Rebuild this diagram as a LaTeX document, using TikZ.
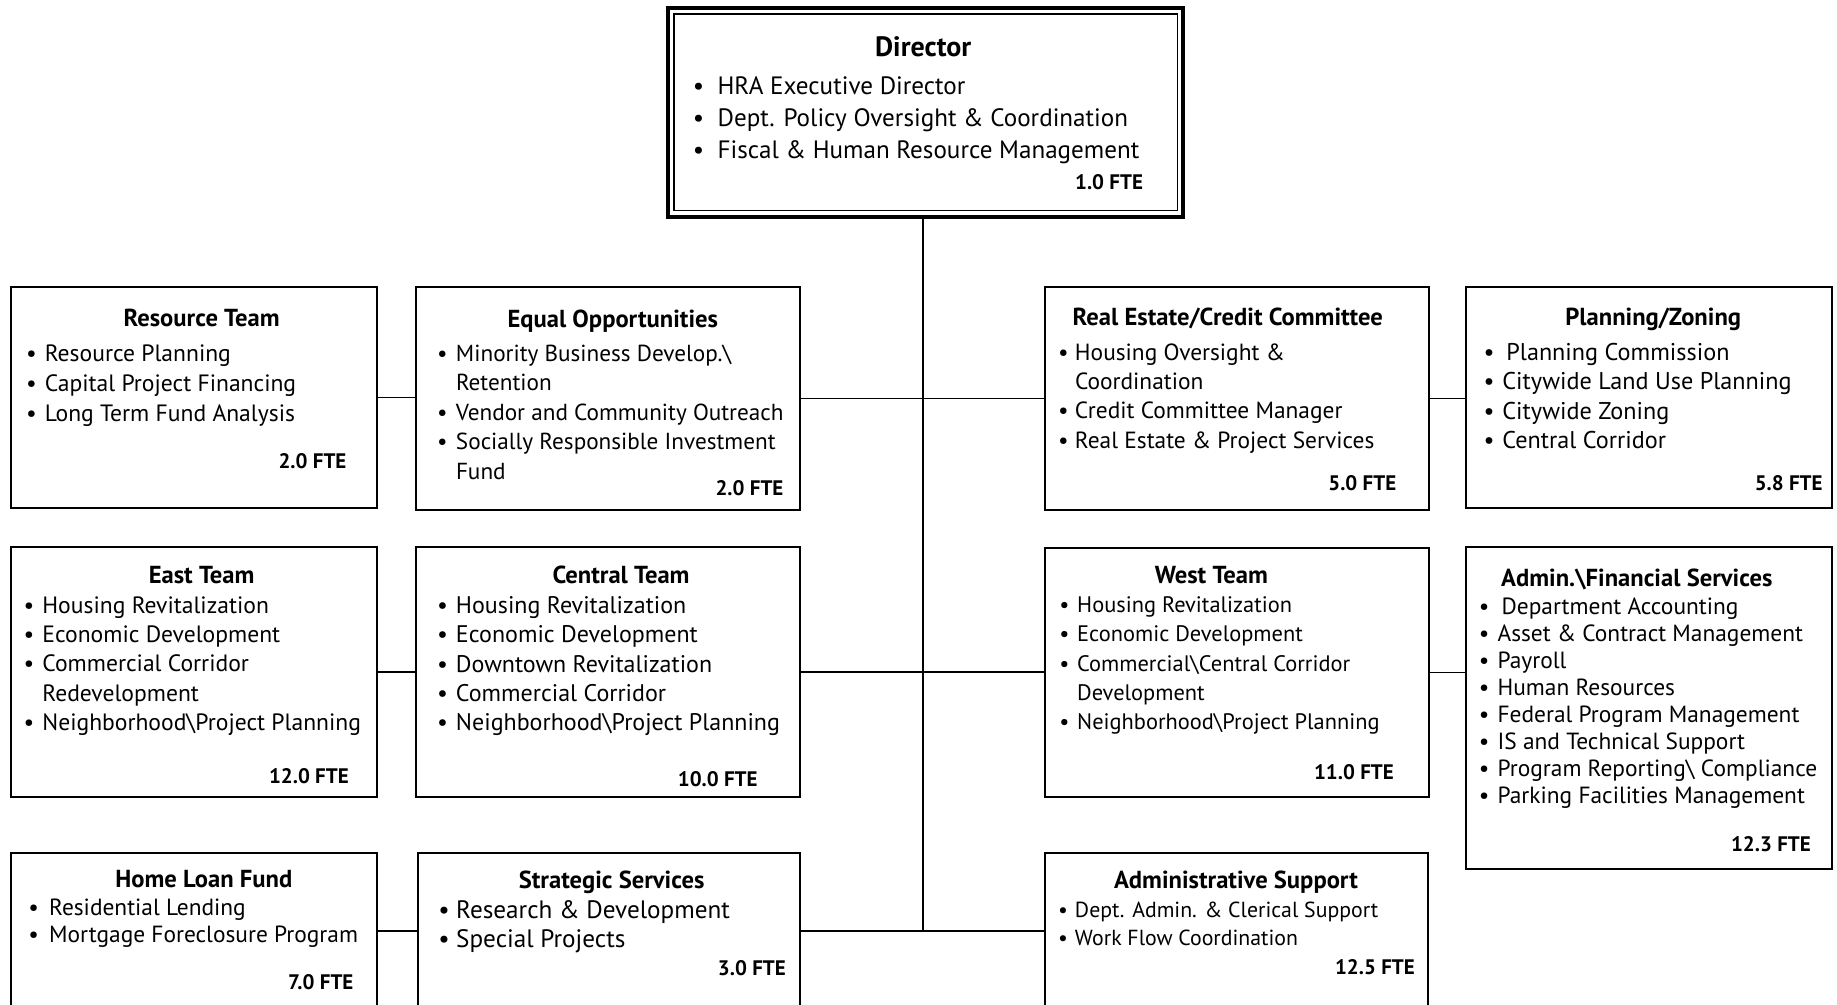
\documentclass[tikz,border=0pt]{standalone}
\usepackage{fontspec}
\setmainfont{PT Sans}
\usetikzlibrary{positioning}
\tikzset{
  unit/.style={draw, rectangle, line width=1pt, inner sep=0pt},
  head/.style={font=\bfseries\fontsize{12.3}{15}\selectfont, inner sep=0pt, text height=11.2pt, text depth=2.5pt},
  items/.style 2 args={font=\fontsize{#1}{#2}\selectfont, align=left, anchor=north west, inner sep=0pt, execute at begin node={\rule{0pt}{11.6pt}}},
  fte/.style={font=\bfseries\fontsize{10.5}{12}\selectfont, anchor=east, inner sep=0pt, text height=8pt, text depth=0pt},
  link/.style={line width=0.8pt},
}
\newcommand{\itm}[2][9.4pt]{\makebox[#1][l]{\textbullet}#2}
\newcommand{\cnt}[2][9.4pt]{\hspace*{#1}#2}

\begin{document}
\begin{tikzpicture}[x=1pt, y=1pt]
    \useasboundingbox (0,0) rectangle (918.5,-502.5);
    \clip (0,0) rectangle (918.5,-502.5);

    % director
    \node [unit, line width=2pt, minimum width=257.8pt, minimum height=104.3pt] (dir) at (462.8,-56.25) {};
    \draw [line width=0.7pt] ([shift={(4pt,-4pt)}]dir.north west) rectangle ([shift={(-4pt,4pt)}]dir.south east);
    \node [head, font=\bfseries\fontsize{14}{16}\selectfont] (dirt) at (461.6,-24) {Director};
    \node [items={12.55}{16}] (diri) at (346.2,-38)
    {
        \itm[12.4pt]{HRA Executive Director}\\
        \itm[12.4pt]{Dept. Policy Oversight \& Coordination}\\
        \itm[12.4pt]{Fiscal \& Human Resource Management}
    };
    \node [fte] (dirf) at (571.7,-90.8) {1.0 FTE};

    % first row
    \node [unit, minimum width=183pt, minimum height=110.5pt] (res) at (97,-198.75) {};
    \node [head] (rest) at (100.8,-158.8) {Resource Team};
    \node [items={11.8}{14.95}] (resi) at (12.8,-172.1)
    {
        \itm{Resource Planning}\\
        \itm{Capital Project Financing}\\
        \itm{Long Term Fund Analysis}
    };
    \node [fte] (resf) at (173.4,-230.2) {2.0 FTE};

    \node [unit, minimum width=192pt, minimum height=111.5pt] (eq) at (304,-199.25) {};
    \node [head] (eqt) at (306.4,-159.3) {Equal Opportunities};
    \node [items={11.6}{14.8}] (eqi) at (218.4,-172.1)
    {
        \itm{Minority Business Develop.\textbackslash}\\
        \cnt{Retention}\\
        \itm{Vendor and Community Outreach}\\
        \itm{Socially Responsible Investment}\\
        \cnt{Fund}
    };
    \node [fte] (eqf) at (391.9,-243.7) {2.0 FTE};

    \node [unit, minimum width=192pt, minimum height=111.5pt] (re) at (618.5,-199.25) {};
    \node [head] (ret) at (613.9,-158.2) {Real Estate/Credit Committee};
    \node [items={11.7}{14.67}] (rei) at (528.9,-171.5)
    {
        \itm[8.4pt]{Housing Oversight \&}\\
        \cnt[8.4pt]{Coordination}\\
        \itm[8.4pt]{Credit Committee Manager}\\
        \itm[8.4pt]{Real Estate \& Project Services}
    };
    \node [fte] (ref) at (698.3,-241.3) {5.0 FTE};

    \node [unit, minimum width=183pt, minimum height=110.5pt] (plan) at (824.5,-198.75) {};
    \node [head] (plant) at (826.6,-158.2) {Planning/Zoning};
    \node [items={12.1}{14.67}] (plani) at (741.6,-171.5)
    {
        \itm[11.4pt]{Planning Commission}\\
        \itm{Citywide Land Use Planning}\\
        \itm{Citywide Zoning}\\
        \itm{Central Corridor}
    };
    \node [fte] (planf) at (911.5,-241.3) {5.8 FTE};

    % second row
    \node [unit, minimum width=183pt, minimum height=125pt] (eastteam) at (97,-336) {};
    \node [head] (eastt) at (100.8,-287.6) {East Team};
    \node [items={11.8}{14.65}] (easti) at (11.6,-298.1)
    {
        \itm{Housing Revitalization}\\
        \itm{Economic Development}\\
        \itm{Commercial Corridor}\\
        \cnt{Redevelopment}\\
        \itm{Neighborhood\textbackslash Project Planning}
    };
    \node [fte] (eastf) at (174.6,-387.8) {12.0 FTE};

    \node [unit, minimum width=192pt, minimum height=125pt] (centralteam) at (304,-336) {};
    \node [head] (centralt) at (310.5,-287.6) {Central Team};
    \node [items={12}{14.65}] (centrali) at (218.4,-298.1)
    {
        \itm{Housing Revitalization}\\
        \itm{Economic Development}\\
        \itm{Downtown Revitalization}\\
        \itm{Commercial Corridor}\\
        \itm{Neighborhood\textbackslash Project Planning}
    };
    \node [fte] (centralf) at (379,-389) {10.0 FTE};

    \node [unit, minimum width=192pt, minimum height=124.5pt] (westteam) at (618.5,-336.25) {};
    \node [head] (westt) at (605.7,-287.6) {West Team};
    \node [items={11.2}{14.65}] (westi) at (529.5,-298.1)
    {
        \itm[8.9pt]{Housing Revitalization}\\
        \itm[8.9pt]{Economic Development}\\
        \itm[8.9pt]{Commercial\textbackslash Central Corridor}\\
        \cnt[8.9pt]{Development}\\
        \itm[8.9pt]{Neighborhood\textbackslash Project Planning}
    };
    \node [fte] (westf) at (697.1,-385.5) {11.0 FTE};

    \node [unit, minimum width=183pt, minimum height=161pt] (fin) at (824.5,-354) {};
    \node [head] (fint) at (818.4,-288.8) {Admin.\textbackslash Financial Services};
    \node [items={11.7}{13.5}] (fini) at (739.2,-298.7)
    {
        \itm[11.4pt]{Department Accounting}\\
        \itm{Asset \& Contract Management}\\
        \itm{Payroll}\\
        \itm{Human Resources}\\
        \itm{Federal Program Management}\\
        \itm{IS and Technical Support}\\
        \itm{Program Reporting\textbackslash\ Compliance}\\
        \itm{Parking Facilities Management}
    };
    \node [fte] (finf) at (905.6,-421.8) {12.3 FTE};

    % third row
    \node [unit, minimum width=183pt, minimum height=100pt] (home) at (97,-476.5) {};
    \node [head] (homet) at (101.9,-439.4) {Home Loan Fund};
    \node [items={11.7}{13.5}] (homei) at (14,-449.2)
    {
        \itm[10.4pt]{Residential Lending}\\
        \itm[10.4pt]{Mortgage Foreclosure Program}
    };
    \node [fte] (homef) at (176.9,-490.9) {7.0 FTE};

    \node [unit, minimum width=191pt, minimum height=100pt] (strat) at (304.5,-476.5) {};
    \node [head] (stratt) at (305.8,-439.9) {Strategic Services};
    \node [items={12.6}{14.6}] (strati) at (219,-450)
    {
        \itm[8.9pt]{Research \& Development}\\
        \itm[8.9pt]{Special Projects}
    };
    \node [fte] (stratf) at (393.1,-483.9) {3.0 FTE};

    \node [unit, minimum width=191.5pt, minimum height=100pt] (adms) at (618.25,-476.5) {};
    \node [head] (admst) at (618,-439.9) {Administrative Support};
    \node [items={10.9}{14}] (admsi) at (528.9,-451)
    {
        \itm[8.4pt]{Dept. Admin. \& Clerical Support}\\
        \itm[8.4pt]{Work Flow Coordination}
    };
    \node [fte] (admsf) at (707.6,-483.3) {12.5 FTE};

    % connectors
    \coordinate (low) at (461.5,-465.5);
    \draw [link] (dir.south -| low) -- (low);
    \draw [link] (res.east) -- (res.east -| eq.west);
    \draw [link] (eq.east) -- (eq.east -| re.west);
    \draw [link] (re.east) -- (re.east -| plan.west);
    \draw [link] (eastteam.east) -- (eastteam.east -| centralteam.west);
    \draw [link] (centralteam.east) -- (centralteam.east -| westteam.west);
    \draw [link] (westteam.east) -- (westteam.east -| fin.west);
    \draw [link] (home.east |- low) -- (strat.west |- low);
    \draw [link] (strat.east |- low) -- (adms.west |- low);

\end{tikzpicture}
\end{document}
